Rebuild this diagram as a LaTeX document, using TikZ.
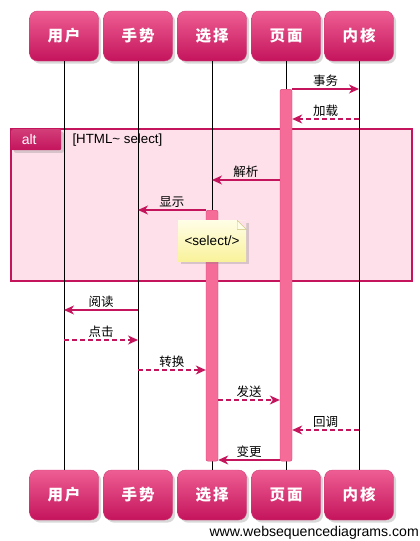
\documentclass[tikz,border=0pt]{standalone}
\usepackage{fontspec}
\setmainfont{Liberation Sans}
\newfontfamily\cjk{Noto Sans CJK SC}
\usepackage{xcolor}
\usetikzlibrary{shapes,arrows.meta,positioning,shadows}
\definecolor{wsdpink}{HTML}{C4145C}
\definecolor{wsdtop}{HTML}{EE5E93}
\definecolor{wsdedge}{HTML}{D23E78}
\definecolor{wsdbar}{HTML}{F56C98}
\definecolor{wsdbaredge}{HTML}{D8437A}
\definecolor{wsdalt}{HTML}{FDE0EA}
\definecolor{wsdnote}{HTML}{F9F29A}
\definecolor{wsdnotetop}{HTML}{FFFEE6}
\definecolor{wsdnoteedge}{HTML}{C9C07A}

\begin{document}
\begin{tikzpicture}[x=1pt,y=-1pt,>={Stealth[length=10pt,width=9pt,inset=3pt]},
    actor/.style={draw=wsdedge, rounded corners=8pt, top color=wsdtop, bottom color=wsdpink,
      minimum width=69pt, minimum height=50pt, inner sep=0pt, text=white,
      font=\cjk\bfseries\fontsize{15.5}{18}\selectfont, drop shadow={opacity=0.3}},
    bar/.style={draw=wsdbaredge, fill=wsdbar, rounded corners=2pt, minimum width=12pt, inner sep=0pt, anchor=north},
    msg/.style={->, draw=wsdpink, line width=1.2pt},
    reply/.style={msg, dash pattern=on 5pt off 3pt},
    lbl/.style={midway, above, inner sep=2pt, font=\cjk\fontsize{12.5}{14}\selectfont},
    note/.style={top color=wsdnotetop, bottom color=wsdnote, minimum width=68pt, minimum height=41pt,
      inner sep=0pt, font=\fontsize{13.5}{15}\selectfont, drop shadow={opacity=0.3}},
    life/.style={draw=black, line width=0.8pt}]
    \useasboundingbox (0,0) rectangle (420,541);
    \fill[white] (0,0) rectangle (420,541);

    % alt frame
    \draw[fill=wsdalt, draw=wsdpink, line width=1.2pt] (11,129) rectangle (412,281);
    \node[anchor=north west, top color=wsdedge, bottom color=wsdpink, rounded corners=2pt,
      minimum width=50pt, minimum height=21pt, inner sep=0pt, text=white,
      font=\fontsize{14}{16}\selectfont, drop shadow={opacity=0.3}] (alt) at (11,129) {\hspace*{-14pt}alt};
    \node[anchor=west, font=\fontsize{13.3}{15}\selectfont] (cond) at (69,140) {[HTML\textasciitilde{} select]};

    % heads
    \node[actor] (user) at (64,36) {用\kern2pt 户};
    \node[actor] (hand) at (138,36) {手\kern2pt 势};
    \node[actor] (pick) at (212,36) {选\kern2pt 择};
    \node[actor] (page) at (286,36) {页\kern2pt 面};
    \node[actor] (core) at (359,36) {内\kern2pt 核};
    \node[actor] (user2) at (64,495) {用\kern2pt 户};
    \node[actor] (hand2) at (138,495) {手\kern2pt 势};
    \node[actor] (pick2) at (212,495) {选\kern2pt 择};
    \node[actor] (page2) at (286,495) {页\kern2pt 面};
    \node[actor] (core2) at (359,495) {内\kern2pt 核};

    % lifelines
    \draw[life] (user.south) -- (user2.north);
    \draw[life] (hand.south) -- (hand2.north);
    \draw[life] (pick.south) -- (pick2.north);
    \draw[life] (page.south) -- (page2.north);
    \draw[life] (core.south) -- (core2.north);

    % activations
    \node[bar, minimum height=372pt] (pbar) at (286,89) {};
    \node[bar, minimum height=251pt] (sbar) at (212,210) {};

    % note
    \node[note] (sel) at (212,241) {<select/>};
    \fill[wsdalt] (sel.north east) -- ++(-9,0) -- ++(9,9) -- cycle;
    \draw[wsdnoteedge, fill=wsdnotetop] (sel.north east) ++(-9,0) -- ++(0,9) -- ++(9,0) -- cycle;

    % messages
    \draw[msg] (pbar.east |- 0,89) -- (core |- 0,89) node[lbl] {事务};
    \draw[reply] (core |- 0,119) -- (pbar.east |- 0,119) node[lbl] {加载};
    \draw[msg] (pbar.west |- 0,180) -- (pick |- 0,180) node[lbl] {解析};
    \draw[msg] (sbar.west |- 0,210) -- (hand |- 0,210) node[lbl] {显示};
    \draw[msg] (hand |- 0,310) -- (user |- 0,310) node[lbl] {阅读};
    \draw[reply] (user |- 0,340) -- (hand |- 0,340) node[lbl] {点击};
    \draw[reply] (hand |- 0,370) -- (sbar.west |- 0,370) node[lbl] {转换};
    \draw[reply] (sbar.east |- 0,400) -- (pbar.west |- 0,400) node[lbl] {发送};
    \draw[reply] (core |- 0,430) -- (pbar.east |- 0,430) node[lbl] {回调};
    \draw[msg] (pbar.west |- 0,460) -- (sbar.east |- 0,460) node[lbl] {变更};

    \node[anchor=south east, inner sep=1pt, font=\fontsize{14.1}{16}\selectfont] (site) at (420,541) {www.websequencediagrams.com};
\end{tikzpicture}
\end{document}
